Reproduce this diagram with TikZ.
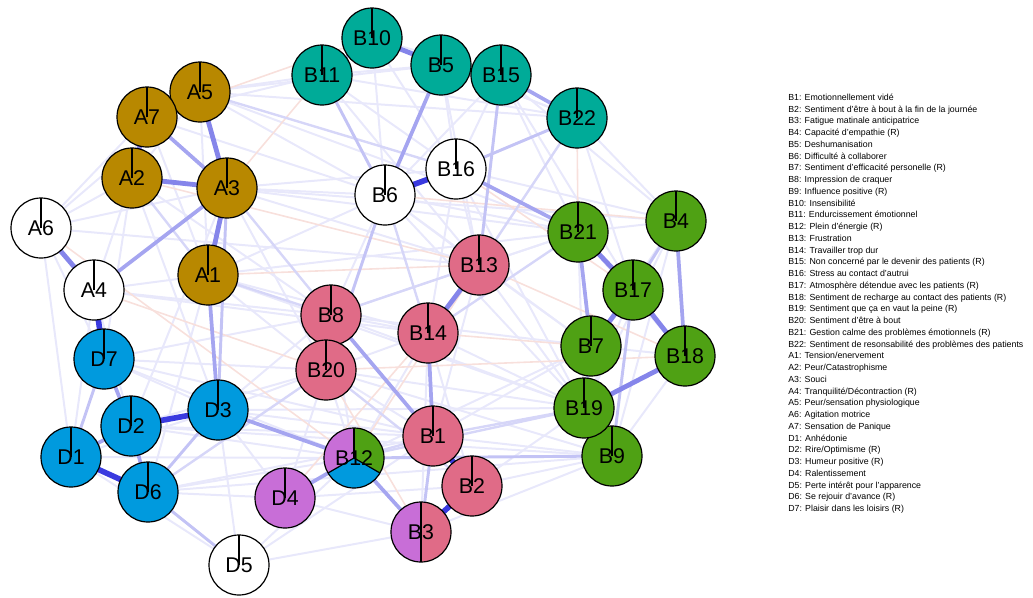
\documentclass[tikz,border=0pt]{standalone}
\usepackage{fontspec}
\setmainfont{Liberation Sans}
\definecolor{agold}{HTML}{B88800}
\definecolor{bteal}{HTML}{00AB98}
\definecolor{bpink}{HTML}{E06B87}
\definecolor{bgreen}{HTML}{4FA114}
\definecolor{dblue}{HTML}{009ADE}
\definecolor{bpurple}{HTML}{C86ED7}
\definecolor{edgeA}{HTML}{3A3ADF}
\definecolor{edgeB}{HTML}{8585EA}
\definecolor{edgeC}{HTML}{A5A5F0}
\definecolor{edgeD}{HTML}{C3C3F5}
\definecolor{edgeE}{HTML}{D6D6F8}
\definecolor{edgeF}{HTML}{E8E8FB}
\definecolor{edgeN}{HTML}{F8E0DC}
\pgfdeclarelayer{edges}
\pgfdeclarelayer{pies}
\pgfsetlayers{edges,pies,main}

\begin{document}
\begin{tikzpicture}[x=0.75pt, y=-0.75pt,
    nd/.style={draw, circle, line width=0.9pt, minimum size=45pt, inner sep=0pt, outer sep=0pt, font=\fontsize{16}{16}\selectfont},
    tick/.style={line width=0.9pt},
    leg/.style={anchor=base west, inner sep=0pt, font=\fontsize{6.6}{7.5}\selectfont},
    wA/.style={line width=4.2pt, edgeA},
    wB/.style={line width=3.6pt, edgeB},
    wC/.style={line width=2.8pt, edgeC},
    wD/.style={line width=2.2pt, edgeD},
    wE/.style={line width=1.8pt, edgeE},
    faint/.style={line width=1.5pt, edgeF},
    neg/.style={line width=1.2pt, edgeN}
]
\useasboundingbox (0,0) rectangle (1033,597);

\node[nd, fill=agold] (A1) at (208,275) {A1};
\node[nd, fill=agold] (A2) at (132,178) {A2};
\node[nd, fill=agold] (A3) at (227,188) {A3};
\node[nd, fill=white] (A4) at (94,290) {A4};
\node[nd, fill=agold] (A5) at (200,92) {A5};
\node[nd, fill=white] (A6) at (41,228) {A6};
\node[nd, fill=agold] (A7) at (147,117) {A7};

\node[nd, fill=bpink] (B1) at (433,436) {B1};
\node[nd, fill=bpink] (B2) at (472,486) {B2};
\node[nd] (B3) at (421,532) {B3};
\node[nd, fill=bgreen] (B4) at (676,221) {B4};
\node[nd, fill=bteal] (B5) at (441,65) {B5};
\node[nd, fill=white] (B6) at (385,195) {B6};
\node[nd, fill=bgreen] (B7) at (591,346) {B7};
\node[nd, fill=bpink] (B8) at (331,315) {B8};
\node[nd, fill=bgreen] (B9) at (612,456) {B9};
\node[nd, fill=bteal] (B10) at (372,38) {B10};
\node[nd, fill=bteal] (B11) at (322,75) {B11};
\node[nd] (B12) at (354,458) {B12};
\node[nd, fill=bpink] (B13) at (479,265) {B13};
\node[nd, fill=bpink] (B14) at (428,333) {B14};
\node[nd, fill=bteal] (B15) at (501,75) {B15};
\node[nd, fill=white] (B16) at (456,169) {B16};
\node[nd, fill=bgreen] (B17) at (633,290) {B17};
\node[nd, fill=bgreen] (B18) at (685,356) {B18};
\node[nd, fill=bgreen] (B19) at (584,408) {B19};
\node[nd, fill=bpink] (B20) at (326,370) {B20};
\node[nd, fill=bgreen] (B21) at (578,232) {B21};
\node[nd, fill=bteal] (B22) at (577,118) {B22};

\node[nd, fill=dblue] (D1) at (71,457) {D1};
\node[nd, fill=dblue] (D2) at (131,426) {D2};
\node[nd, fill=dblue] (D3) at (218,410) {D3};
\node[nd, fill=bpurple] (D4) at (285,498) {D4};
\node[nd, fill=white] (D5) at (239,565) {D5};
\node[nd, fill=dblue] (D6) at (148,492) {D6};
\node[nd, fill=dblue] (D7) at (104,359) {D7};

\begin{pgfonlayer}{pies}
\fill[bpurple] (B3.center) -- (B3.north) arc[start angle=90, end angle=270, radius=22.5pt] -- cycle;
\fill[bpink] (B3.center) -- (B3.south) arc[start angle=270, end angle=450, radius=22.5pt] -- cycle;
\fill[bpurple] (B12.center) -- (B12.north) arc[start angle=90, end angle=210, radius=22.5pt] -- cycle;
\fill[dblue] (B12.center) -- (B12.210) arc[start angle=210, end angle=330, radius=22.5pt] -- cycle;
\fill[bgreen] (B12.center) -- (B12.330) arc[start angle=330, end angle=450, radius=22.5pt] -- cycle;
\end{pgfonlayer}

\begin{pgfonlayer}{edges}
\foreach \a/\b in {A5/B11, A5/B6, A5/A1, A5/A2, A7/A1, A7/A6, A2/A6, A2/A4, A2/D7, A3/B6, A3/B20,
    A3/B13, A1/B20, A1/B14, A4/A1, A4/D2, A4/D1, A6/D1, A6/D7, A6/A3, D7/D3, D7/B20, D7/B12,
    D2/B12, D2/B1, D6/B12, D6/D4, D1/D3, D1/D5, D3/D4, D3/D5, D3/B20, D3/B8, D4/B3, D4/B20,
    D5/B12, D5/B1, B8/B14, B8/B6, B8/B12, B20/B12, B20/B1, B20/B14, B14/B12, B14/B3,
    B14/B2, B14/B19, B14/B16, B1/B9, B1/B13, B2/B9, B2/B19, B3/B9, B6/B10, B6/B15, B6/B13,
    B11/B10, B11/B16, B11/B22, B5/B16, B5/B11, B10/B15, B15/B16, B15/B21, B22/B4,
    B22/B17, B16/B13, B16/B22, B13/B21, B13/B7, B13/B19, B21/B4, B21/B19, B21/B18, B7/B18,
    B7/B9, B4/B7, B4/B19, B4/B9, B18/B9, B17/B19, B12/B7, B1/B7, B8/B21, A3/B16, A5/B5, A1/B6,
    A5/B22, A5/B21, A3/B21, A3/B4, A1/B21, A1/B19, A6/B13, A4/B14, D7/B1, D1/B12, D2/B9,
    D6/B9, D6/B1, D3/B19, D3/B1, D4/B2, D5/B3, B20/B19, B8/B19, B8/B7, B20/B9, B6/B21,
    B6/B19, B6/B7, B11/B13, B10/B16, B10/B22, B5/B22, B5/B13, B15/B17, B15/B4, B16/B19,
    B16/B4, A7/B11, A7/B6, A2/B8, A2/D3, A6/A5, A4/B8, D7/B8, D2/B20, A1/D6, A3/D2}
    \draw[faint] (\a) -- (\b);
\foreach \a/\b in {A6/B12, B22/B21, B6/B4, B11/A3, B12/B13, A1/B13, A4/B20, B16/B17, B13/B18,
    B3/B20, D4/B14, A7/B10, B14/B7, A2/B13, B20/B18}
    \draw[neg] (\a) -- (\b);
\foreach \a/\b in {A3/B8, A2/A1, B1/B19, B12/B1, B8/B20, B13/B8, B6/B14, B12/B19, B5/B15, A1/B8,
    B13/B22, A5/B16, D6/B20, B20/B2, B14/B21}
    \draw[wE] (\a) -- (\b);
\foreach \a/\b in {B11/B6, B15/B13, B4/B17, B17/B9, B12/B9, D7/D1, D6/D5, D3/D6, B1/B3,
    B7/B19, B19/B9, B16/B22, B6/B20, B10/B11, A3/D3}
    \draw[wD] (\a) -- (\b);
\foreach \a/\b in {A7/A3, B5/B6, B8/B1, B12/B3, B12/D4, D3/B12, D1/D2, D2/D6, A3/A4,
    B16/B21, B14/B1, B4/B18, B21/B7, B15/B22, D3/A1, D7/D2}
    \draw[wC] (\a) -- (\b);
\foreach \a/\b in {A7/A2, A5/A3, A3/A1, A2/A3, A7/A5, A6/A4, B10/B5, B13/B14, B21/B17,
    B17/B18, B18/B19, B17/B7}
    \draw[wB] (\a) -- (\b);
\foreach \a/\b in {B6/B16, B1/B2, B2/B3, A4/D7, D2/D3, D1/D6}
    \draw[wA] (\a) -- (\b);
\end{pgfonlayer}

\foreach \n in {A1,A2,A3,A4,A5,A6,A7,B1,B2,B4,B5,B6,B7,B8,B9,B10,B11,B13,B14,B15,B16,
    B17,B18,B19,B20,B21,B22,D1,D2,D3,D4,D5,D6,D7}
    \draw[tick] (\n.center) -- (\n.north);
\draw[tick] (B3.north) -- (B3.south);
\draw[tick] (B12.center) -- (B12.north);
\draw[tick] (B12.center) -- (B12.210);
\draw[tick] (B12.center) -- (B12.330);

\foreach \t [count=\i] in {{B1: Emotionnellement vidé},
    {B2: Sentiment d’être à bout à la fin de la journée},
    {B3: Fatigue matinale anticipatrice},
    {B4: Capacité d’empathie (R)},
    {B5: Deshumanisation},
    {B6: Difficulté à collaborer},
    {B7: Sentiment d’efficacité personelle (R)},
    {B8: Impression de craquer},
    {B9: Influence positive (R)},
    {B10: Insensibilité},
    {B11: Endurcissement émotionnel},
    {B12: Plein d’énergie (R)},
    {B13: Frustration},
    {B14: Travailler trop dur},
    {B15: Non concerné par le devenir des patients (R)},
    {B16: Stress au contact d’autrui},
    {B17: Atmosphère détendue avec les patients (R)},
    {B18: Sentiment de recharge au contact des patients (R)},
    {B19: Sentiment que ça en vaut la peine (R)},
    {B20: Sentiment d’être à bout},
    {B21: Gestion calme des problèmes émotionnels (R)},
    {B22: Sentiment de resonsabilité des problèmes des patients},
    {A1: Tension/enervement},
    {A2: Peur/Catastrophisme},
    {A3: Souci},
    {A4: Tranquilité/Décontraction (R)},
    {A5: Peur/sensation physiologique},
    {A6: Agitation motrice},
    {A7: Sensation de Panique},
    {D1: Anhédonie},
    {D2: Rire/Optimisme (R)},
    {D3: Humeur positive (R)},
    {D4: Ralentissement},
    {D5: Perte intérêt pour l’apparence},
    {D6: Se rejouir d’avance (R)},
    {D7: Plaisir dans les loisirs (R)}}
    \node[leg] (L\i) at (788, 88.5+11.75*\i) {\t};
\end{tikzpicture}
\end{document}
